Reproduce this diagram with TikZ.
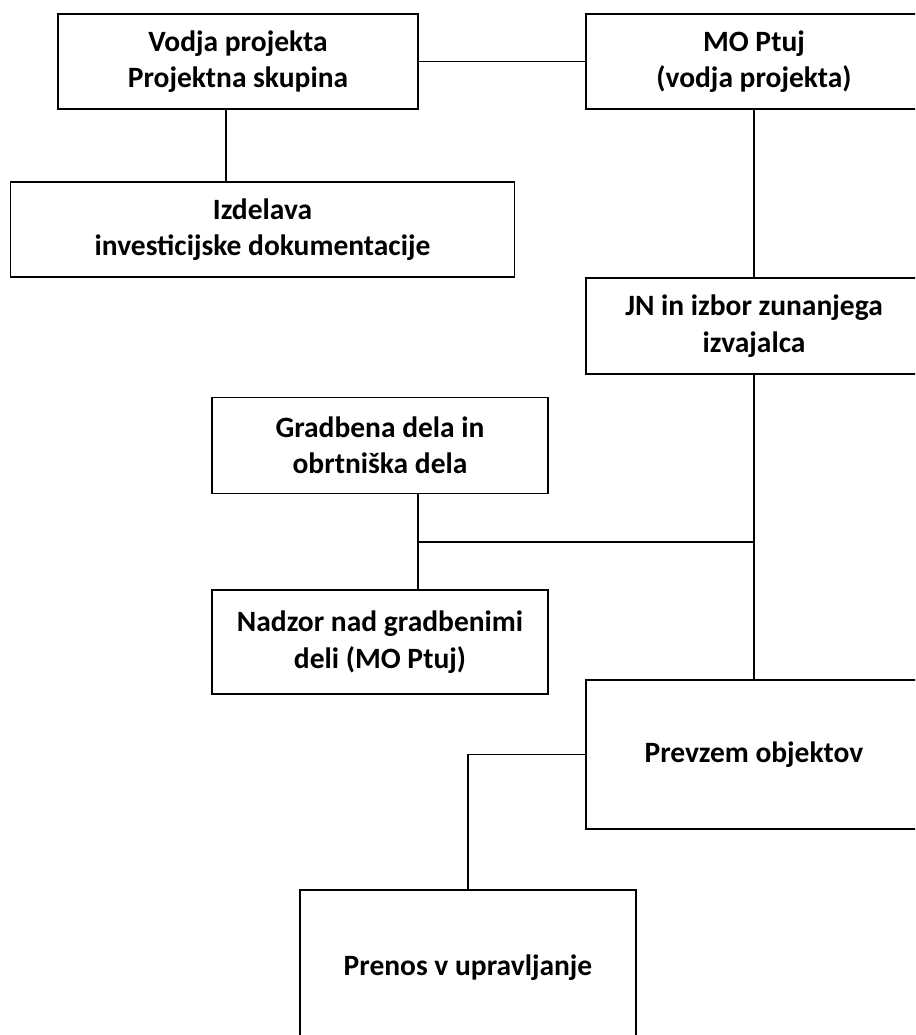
\documentclass[tikz,border=0pt]{standalone}
\usepackage{fontspec}
\setmainfont{Carlito}
\begin{document}
\begin{tikzpicture}[x=1pt,y=-1pt,
  box/.style={draw=black,line width=1.8pt,rectangle,inner sep=0pt,align=center,
    font=\fontsize{29.5}{36.5}\selectfont\bfseries},
  conn/.style={draw=black,line width=1.4pt}]
\path[use as bounding box] (0,0) rectangle (915,1035);
\clip (0,0) rectangle (915,1035);
\node[box,minimum width=360pt,minimum height=95pt] (vodja) at (238,61.5) {Vodja projekta\\Projektna skupina};
\node[box,minimum width=336pt,minimum height=95pt] (mo) at (754,61.5) {MO Ptuj\\(vodja projekta)};
\node[box,minimum width=504pt,minimum height=95pt] (izd) at (262.5,229.5) {Izdelava\\investicijske dokumentacije};
\node[box,minimum width=336pt,minimum height=96pt] (jn) at (754,326) {JN in izbor zunanjega\\izvajalca};
\node[box,minimum width=336pt,minimum height=96pt] (grad) at (380,445.5) {Gradbena dela in\\obrtniška dela};
\node[box,minimum width=336pt,minimum height=104pt] (nad) at (380,642) {Nadzor nad gradbenimi\\deli (MO Ptuj)};
\node[box,minimum width=336pt,minimum height=149pt] (prev) at (754,754.5) {Prevzem objektov};
\node[box,minimum width=336pt,minimum height=155pt] (pren) at (468,967.5) {Prenos v upravljanje};
\coordinate (cx1) at (226,0);
\coordinate (cx2) at (418,0);
\coordinate (j1) at (418,542);
\coordinate (j2) at (754,542);
\draw[conn] (vodja.east) -- (mo.west);
\draw[conn] (vodja.south -| cx1) -- (izd.north -| cx1);
\draw[conn] (mo.south) -- (jn.north);
\draw[conn] (jn.south) -- (prev.north);
\draw[conn] (grad.south -| cx2) -- (nad.north -| cx2);
\draw[conn] (j1) -- (j2);
\draw[conn] (prev.west) -| (pren.north);
\end{tikzpicture}
\end{document}
